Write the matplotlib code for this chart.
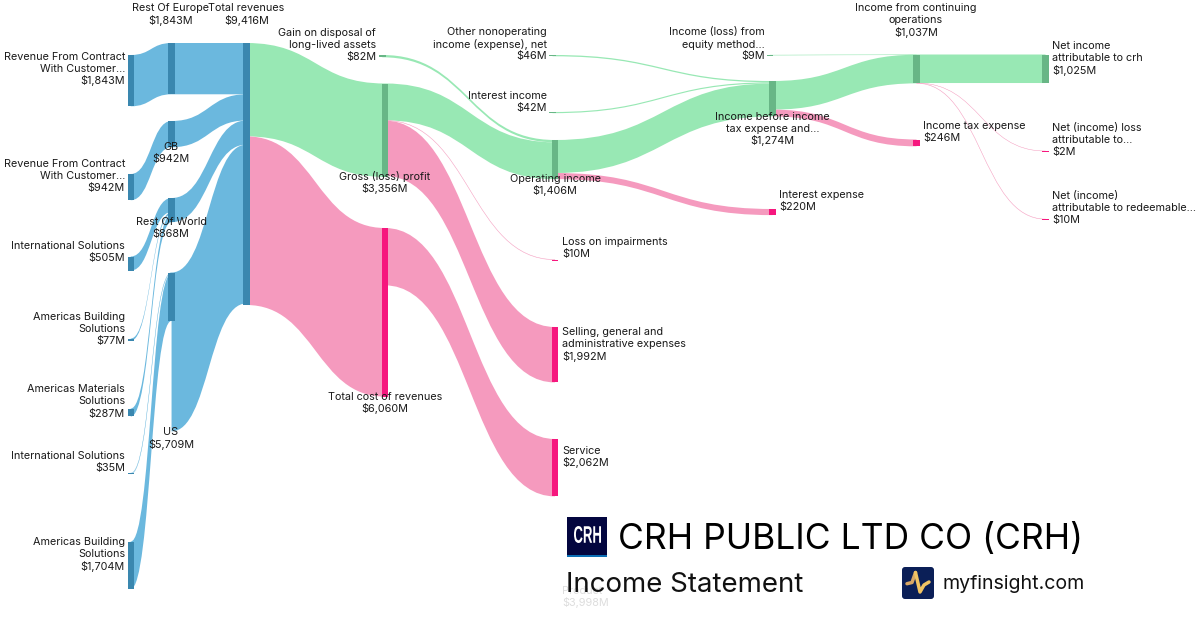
import matplotlib
matplotlib.use('Agg')
import matplotlib.pyplot as plt
from matplotlib.path import Path
from matplotlib.patches import PathPatch, Rectangle, FancyBboxPatch
from matplotlib.textpath import TextPath
from matplotlib.font_manager import FontProperties
from matplotlib.transforms import Affine2D

plt.rcParams['font.family'] = ['Inter', 'DejaVu Sans']

# nodes
node_ids = ['rev1', 'rev2', 'intl1', 'amb1', 'amm', 'intl2', 'amb2',
            'roe', 'gb', 'row', 'us', 'total',
            'gain', 'gross', 'cost',
            'other', 'intinc', 'opinc', 'impair', 'sga', 'service', 'product',
            'equity', 'pretax', 'intexp',
            'cont', 'tax',
            'net', 'nci', 'redeem']
node_labels = ['Revenue From Contract\nWith Customer...', 'Revenue From Contract\nWith Customer...',
               'International Solutions', 'Americas Building\nSolutions',
               'Americas Materials\nSolutions', 'International Solutions',
               'Americas Building\nSolutions',
               'Rest Of Europe', 'GB', 'Rest Of World', 'US', 'Total revenues',
               'Gain on disposal of\nlong-lived assets', 'Gross (loss) profit', 'Total cost of revenues',
               'Other nonoperating\nincome (expense), net', 'Interest income', 'Operating income',
               'Loss on impairments', 'Selling, general and\nadministrative expenses', 'Service', 'Product',
               'Income (loss) from\nequity method...', 'Income before income\ntax expense and...', 'Interest expense',
               'Income from continuing\noperations', 'Income tax expense',
               'Net income\nattributable to crh', 'Net (income) loss\nattributable to...',
               'Net (income)\nattributable to redeemable...']
node_values = [1843, 942, 505, 77, 287, 35, 1704,
               1843, 942, 868, 5709, 9416,
               82, 3356, 6060,
               46, 42, 1406, 10, 1992, 2062, 3998,
               9, 1274, 220,
               1037, 246,
               1025, 2, 10]

# links, the order sets how they stack on a node
link_src = ['rev1', 'rev2', 'intl1', 'amb1', 'amm', 'intl2', 'amb2',
            'roe', 'gb', 'row', 'us',
            'total', 'total',
            'gain', 'gross', 'gross', 'gross',
            'cost', 'other', 'intinc', 'opinc', 'opinc',
            'equity', 'pretax', 'pretax',
            'cont', 'cont', 'cont']
link_dst = ['roe', 'gb', 'row', 'row', 'row', 'us', 'us',
            'total', 'total', 'total', 'total',
            'gross', 'cost',
            'opinc', 'opinc', 'impair', 'sga',
            'service', 'pretax', 'pretax', 'pretax', 'intexp',
            'cont', 'cont', 'tax',
            'net', 'nci', 'redeem']
link_values = [1843, 942, 505, 77, 287, 35, 1704,
               1843, 942, 868, 5709,
               3356, 6060,
               82, 1324, 10, 1992,
               2062, 46, 42, 1186, 220,
               9, 1028, 246,
               1025, 2, 10]

# groups for colour
blue_ids = node_ids[:12]
pink_ids = ['cost', 'impair', 'sga', 'service', 'product', 'intexp', 'tax', 'nci', 'redeem']

colors = {'blue': ('#6BB8DE', '#3A87AF'),
          'green': ('#98E8B4', '#68B686'),
          'pink': ('#F59ABE', '#F6177E')}

# layout in image pixels: left edge and top of each node
layout = {'rev1': (127.5, 55), 'rev2': (127.5, 174), 'intl1': (127.5, 256.5), 'amb1': (127.5, 338.5),
          'amm': (127.5, 408.5), 'intl2': (127.5, 473), 'amb2': (127.5, 541.5),
          'roe': (168.3, 43), 'gb': (168.3, 121), 'row': (168.3, 198), 'us': (168.3, 272.5),
          'total': (243, 43),
          'gain': (379, 55), 'gross': (381.7, 83.5), 'cost': (381.7, 228),
          'other': (549.3, 55), 'intinc': (549.3, 112), 'opinc': (551.7, 140), 'impair': (551.7, 259.5),
          'sga': (551.7, 327), 'service': (551.7, 439), 'product': (551.7, 620),
          'equity': (766.7, 55), 'pretax': (769.3, 81), 'intexp': (769.3, 209),
          'cont': (913.3, 54.5), 'tax': (913.3, 139.5),
          'net': (1042.3, 54.5), 'nci': (1042.3, 151), 'redeem': (1042.3, 219)}

# label anchor: x, y of the last line, alignment
label_pos = {'rev1': (125, 81, 'right'), 'rev2': (125, 188, 'right'), 'intl1': (125, 258, 'right'),
             'amb1': (125, 341, 'right'), 'amm': (125, 413.5, 'right'), 'intl2': (125, 468, 'right'),
             'amb2': (125, 566, 'right'),
             'roe': (171, 20, 'center'), 'gb': (171, 159, 'center'), 'row': (171, 234, 'center'),
             'us': (171, 444, 'center'), 'total': (246.5, 20, 'center'),
             'gain': (376, 57, 'right'), 'gross': (385, 189, 'center'), 'cost': (385, 409, 'center'),
             'other': (547, 56, 'right'), 'intinc': (547, 108, 'right'), 'opinc': (555, 190.5, 'center'),
             'impair': (562, 254, 'left'), 'sga': (562, 356, 'left'), 'service': (562, 463, 'left'),
             'product': (562, 603, 'left'),
             'equity': (765, 56.5, 'right'), 'pretax': (772.5, 141, 'center'), 'intexp': (779, 207, 'left'),
             'cont': (916, 32, 'center'), 'tax': (923, 138, 'left'),
             'net': (1052, 70, 'left'), 'nci': (1052, 152, 'left'), 'redeem': (1052, 220, 'left')}

SCALE = 262.0 / 9416
NODE_W = 6.5
FS = 7.8


def group(n):
    if n in blue_ids:
        return 'blue'
    if n in pink_ids:
        return 'pink'
    return 'green'


fig = plt.figure(figsize=(12, 6.3), dpi=100)
ax = fig.add_axes([0, 0, 1, 1])
ax.set_xlim(0, 1200)
ax.set_ylim(630, 0)
ax.axis('off')

src_off = {n: 0.0 for n in node_ids}
dst_off = {n: 0.0 for n in node_ids}
incoming = {n: 0 for n in node_ids}

for s, d, v in zip(link_src, link_dst, link_values):
    h = v * SCALE
    x0 = layout[s][0] + NODE_W / 2
    x1 = layout[d][0] + NODE_W / 2
    y0 = layout[s][1] + src_off[s]
    y1 = layout[d][1] + dst_off[d]
    src_off[s] += h
    dst_off[d] += h
    incoming[d] += v
    xm = (x0 + x1) / 2
    verts = [(x0, y0), (xm, y0), (xm, y1), (x1, y1),
             (x1, y1 + h), (xm, y1 + h), (xm, y0 + h), (x0, y0 + h), (x0, y0)]
    codes = [Path.MOVETO, Path.CURVE4, Path.CURVE4, Path.CURVE4,
             Path.LINETO, Path.CURVE4, Path.CURVE4, Path.CURVE4, Path.CLOSEPOLY]
    c = colors[group(d)][0]
    thin = h < 1
    ax.add_patch(PathPatch(Path(verts, codes), facecolor=c, edgecolor=c if thin else 'none',
                           linewidth=0.3 if thin else 0, alpha=0.55 if thin else 1, zorder=1))

for n, v in zip(node_ids, node_values):
    if n == 'product':
        continue
    # US only shows the part fed by its incoming links
    shown = incoming[n] if n == 'us' else v
    x, top = layout[n]
    ax.add_patch(Rectangle((x, top), NODE_W, max(shown * SCALE, 1.0),
                           facecolor=colors[group(n)][1], edgecolor='none', zorder=2))

for n, lab, v in zip(node_ids, node_labels, node_values):
    x, y, ha = label_pos[n]
    lines = lab.split('\n') + ['${:,}M'.format(v)]
    col = '#DDDDDD' if n == 'product' else '#1A1A1A'
    for i, line in enumerate(lines):
        ax.text(x, y - 12 * (len(lines) - 1 - i), line, ha=ha, va='center',
                fontsize=FS, color=col, zorder=3 if n != 'product' else 0.5)

# heading
ax.text(618, 539, 'CRH PUBLIC LTD CO (CRH)', fontsize=25.5, color='black', va='center', ha='left', zorder=4)
ax.text(566.5, 585, 'Income Statement', fontsize=19.9, color='#111111', va='center', ha='left', zorder=4)
ax.text(943, 584, 'myfinsight.com', fontsize=14.1, color='#111111', va='center', ha='left', zorder=4)

# crh logo
ax.add_patch(Rectangle((567, 517), 40, 38, facecolor='#03063F', edgecolor='none', zorder=4))
ax.add_patch(Rectangle((567, 555), 40, 2, facecolor='#0B6FB5', edgecolor='none', zorder=4))
tp = TextPath((0, 0), 'CRH', size=10, prop=FontProperties(family='Liberation Sans', weight='bold'))
bb = tp.get_extents()
tr = Affine2D().translate(-bb.x0, -bb.y0).scale(27.0 / bb.width, -17.0 / bb.height).translate(574, 543)
ax.add_patch(PathPatch(tp, transform=tr + ax.transData, facecolor='white', edgecolor='none', zorder=5))

# myfinsight logo
ax.add_patch(FancyBboxPatch((904, 569), 28, 28, boxstyle='round,pad=2,rounding_size=3',
                            facecolor='#0B1F57', edgecolor='none', zorder=4))
ax.plot([907, 912, 915.5], [583.7, 582.5, 572.5], color='#D9A865', lw=2.5, zorder=5,
        solid_capstyle='round', solid_joinstyle='round')
ax.plot([915.5, 920, 924, 929], [572.5, 592, 585, 582], color='#F2C463', lw=2.5, zorder=5,
        solid_capstyle='round', solid_joinstyle='round')

fig.savefig('out.png', dpi=100)
